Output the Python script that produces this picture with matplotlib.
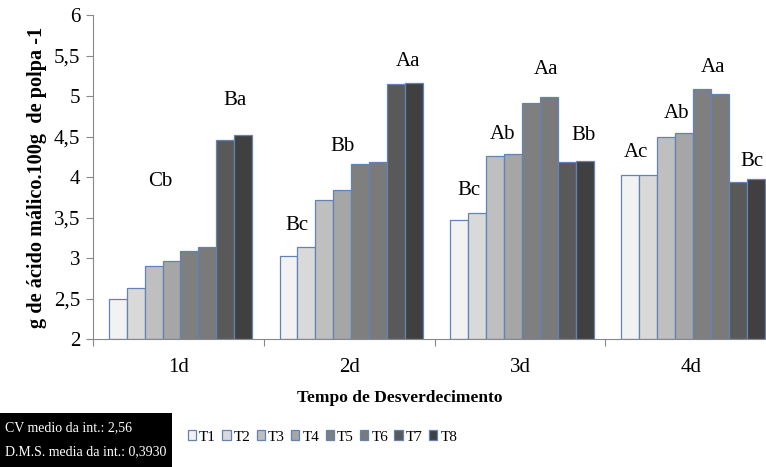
import matplotlib.pyplot as plt
from matplotlib.patches import Rectangle
import numpy as np

plt.rcParams['font.family'] = ['Liberation Serif', 'DejaVu Serif']

# dados
dias = ['1d', '2d', '3d', '4d']
tratamentos = ['T1', 'T2', 'T3', 'T4', 'T5', 'T6', 'T7', 'T8']
T1 = [2.50, 3.02, 3.47, 4.02]
T2 = [2.63, 3.13, 3.56, 4.02]
T3 = [2.90, 3.72, 4.26, 4.49]
T4 = [2.96, 3.84, 4.28, 4.54]
T5 = [3.09, 4.16, 4.91, 5.09]
T6 = [3.14, 4.19, 4.99, 5.03]
T7 = [4.46, 5.15, 4.19, 3.94]
T8 = [4.52, 5.16, 4.20, 3.98]
valores = [T1, T2, T3, T4, T5, T6, T7, T8]

letras = ['Cb', 'Ba', 'Bc', 'Bb', 'Aa', 'Bc', 'Ab', 'Aa', 'Bb', 'Ac', 'Ab', 'Aa', 'Bc']
letras_xy = [(-0.107, 3.94), (0.332, 4.95), (0.695, 3.40), (0.958, 4.38), (1.345, 5.43),
             (1.70, 3.83), (1.90, 4.52), (2.154, 5.33), (2.37, 4.51),
             (2.68, 4.30), (2.916, 4.79), (3.13, 5.35), (3.36, 4.19)]

cores = ['#f2f2f2', '#d9d9d9', '#bfbfbf', '#a6a6a6', '#7f7f7f', '#7a7a7a', '#595959', '#404040']
borda = '#6283b5'

fig = plt.figure(figsize=(7.66, 4.67), dpi=100)
ax = fig.add_axes([93 / 766, 1 - 339 / 467, 1 - 93 / 766, (339 - 15) / 467])

x = np.arange(len(dias))
w = 0.105
for i, (t, v) in enumerate(zip(tratamentos, valores)):
    pos = x + (i - 3.5) * w + 0.012
    ax.bar(pos, np.array(v) - 2, w, bottom=2, color=cores[i], edgecolor=borda,
           linewidth=0.9, label=t)

for txt, (lx, ly) in zip(letras, letras_xy):
    ax.text(lx, ly, txt, ha='center', va='center', fontsize=15)

ax.set_ylim(2, 6)
ax.set_xlim(-0.5, 3.44)
yt = np.arange(2, 6.01, 0.5)
ax.set_yticks(yt)
ax.set_yticklabels([('%g' % v).replace('.', ',') for v in yt], fontsize=15)
ax.set_xticks(np.arange(-0.5, 3.5, 1))
ax.set_xticklabels([])
ax.set_xticks(x, minor=True)
ax.set_xticklabels(dias, minor=True, fontsize=15)
ax.tick_params(axis='x', which='minor', length=0, pad=14)
ax.tick_params(axis='x', which='major', length=5, color='#888888')
ax.tick_params(axis='y', length=5, color='#888888', pad=4)
for s in ['top', 'right']:
    ax.spines[s].set_visible(False)
for s in ['left', 'bottom']:
    ax.spines[s].set_color('#888888')

ax.set_ylabel('g de ácido málico.100g  de polpa -1', fontsize=14.6, fontweight='bold', labelpad=5)
fig.text(400 / 766, 1 - 398 / 467, 'Tempo de Desverdecimento', ha='center', va='center',
         fontsize=12.5, fontweight='bold')

fig.legend(loc='center left', bbox_to_anchor=(174 / 766, 1 - 437 / 467), ncol=8, frameon=False,
           fontsize=11, handlelength=0.55, handleheight=0.55, handletextpad=0.2,
           columnspacing=0.4)

fig.patches.append(Rectangle((0, 0), 172 / 766, (467 - 413) / 467, transform=fig.transFigure,
                             facecolor='black', edgecolor='none'))
fig.text(5 / 766, 1 - 428 / 467, 'CV medio da int.: 2,56', ha='left', va='center',
         fontsize=10, color='white')
fig.text(5 / 766, 1 - 452 / 467, 'D.M.S. media da int.: 0,3930', ha='left', va='center',
         fontsize=10, color='white')

fig.savefig('out.png', dpi=100)
